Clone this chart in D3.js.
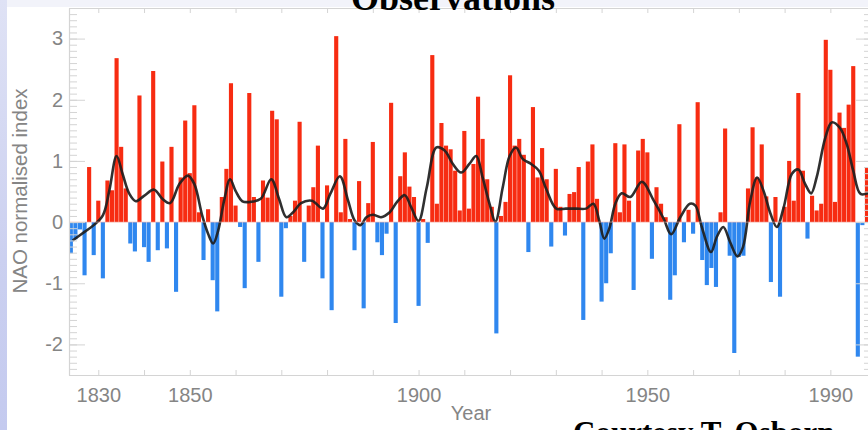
<!DOCTYPE html>
<html>
<head>
<meta charset="utf-8">
<script src="https://cdn.jsdelivr.net/npm/d3@7"></script>
<style>
  html, body { margin: 0; padding: 0; background: #ffffff; }
  svg { display: block; }
</style>
</head>
<body>
<svg id="chart" width="868" height="430"></svg>
<script>
// Winter NAO index, normalised, one value per year starting at firstYear
const firstYear = 1824;
const naoValues = [
  -0.51, -0.28, -0.12, -0.87, 0.90, -0.54,            // 1824-1829
  0.35, -0.92, 0.68, 0.52, 2.68, 1.23, 0.55, -0.35, -0.48, 2.07,   // 1830s
  -0.41, -0.65, 2.47, -0.46, 0.99, -0.43, 1.23, -1.14, 0.73, 1.66, // 1840s
  0.80, 1.91, 0.16, -0.62, 0.21, -0.95, -1.46, 0.41, 0.87, 2.27,   // 1850s
  0.27, -0.08, -1.08, 2.11, 0.41, -0.65, 0.68, 0.40, 1.82, 1.68,   // 1860s
  -1.22, -0.10, 0.10, 0.35, 1.64, -0.65, 0.27, 0.57, 1.25, -0.92,  // 1870s
  0.60, -1.44, 3.04, 0.16, 1.36, 0.05, -0.46, 0.67, -1.41, 0.31,   // 1880s
  1.31, -0.33, -0.54, -0.19, 1.95, -1.65, 0.75, 1.14, 0.58, 0.41,  // 1890s
  -1.37, 0.05, -0.34, 2.73, 0.30, 1.62, 1.25, 1.19, 0.84, 0.19,    // 1900s
  1.49, 0.22, 0.95, 2.05, 1.36, 0.70, 0.25, -1.82, 0.10, 0.33,     // 1910s
  2.40, 1.25, 1.36, 1.10, -0.49, 1.88, 0.73, 1.21, 0.70, -0.40,    // 1920s
  0.87, 0.25, -0.22, 0.46, 0.49, 0.90, -1.60, 0.99, 1.27, 0.38,    // 1930s
  -1.30, -1.00, -0.51, 1.29, 0.16, 1.27, 0.35, -1.11, 1.17, 1.36,  // 1940s
  1.14, -0.60, 0.57, 0.30, 0.08, -1.27, -0.87, 1.60, -0.33, 0.20,  // 1950s
  -0.19, 1.96, -0.62, -1.03, -0.75, -1.06, 0.16, 1.53, -0.55, -2.14, // 1960s
  -0.57, -0.55, 0.55, 1.55, 0.73, 1.27, 0.42, -0.98, 0.41, -1.22,  // 1970s
  0.25, 1.00, 0.35, 2.11, 0.84, -0.27, 0.43, 0.19, 0.30, 2.98,     // 1980s
  2.49, 0.33, 1.79, 1.54, 1.92, 2.55, -2.20, -0.05, 0.90           // 1990s
];

// Low-pass filtered curve (decadal variability)
const smoothYears = [
  1824.4, 1827, 1829, 1831, 1832.4, 1834, 1835.3, 1836.8, 1838.2, 1840,
  1842.2, 1844, 1845.7, 1847.7, 1849.6, 1851, 1852.7, 1854, 1855.1, 1856.2,
  1857.5, 1858.8, 1860, 1861.5, 1863.3, 1865.5, 1867.8, 1869.5, 1871.1, 1872.7,
  1874.3, 1876.7, 1879.1, 1880.7, 1882.8, 1884.6, 1886, 1887.3, 1888.6, 1890,
  1891.8, 1893.7, 1895.3, 1897, 1898.4, 1900, 1901.8, 1903.9, 1905.7, 1907.5,
  1909.3, 1911.1, 1912.6, 1914, 1915.5, 1916.8, 1918.4, 1919.9, 1921.3, 1922.8,
  1924.6, 1926.3, 1927.9, 1930.1, 1932.2, 1934.4, 1936.6, 1938.2, 1939.5, 1940.6,
  1941.7, 1943, 1944.4, 1946.3, 1948.8, 1951.4, 1953.6, 1955.2, 1957.2, 1959.3,
  1960.5, 1961.9, 1963.9, 1965.2, 1966.6, 1968.1, 1969.7, 1970.9, 1972.5, 1974,
  1975.4, 1976.9, 1978.3, 1979.8, 1981.6, 1983, 1984.5, 1985.8, 1987, 1988.9,
  1990.3, 1992.1, 1993.6, 1995, 1996.6, 1998.5
];
const smoothValues = [
  -0.30, -0.16, -0.05, 0.11, 0.51, 1.08, 0.79, 0.46, 0.34, 0.43,
  0.53, 0.38, 0.31, 0.62, 0.76, 0.62, 0.11, -0.19, -0.35, -0.14,
  0.35, 0.70, 0.51, 0.34, 0.33, 0.38, 0.70, 0.38, 0.08, 0.17,
  0.31, 0.35, 0.22, 0.46, 0.75, 0.35, 0.03, -0.05, 0.08, 0.12,
  0.08, 0.16, 0.33, 0.44, 0.24, 0.02, 0.57, 1.22, 1.17, 0.95,
  0.81, 0.95, 1.08, 0.73, 0.30, 0.01, 0.57, 1.08, 1.22, 1.03,
  0.95, 0.84, 0.54, 0.22, 0.22, 0.22, 0.22, 0.30, 0.02, -0.27,
  -0.10, 0.30, 0.47, 0.41, 0.66, 0.35, 0.05, -0.20, 0.08, 0.30,
  0.27, -0.08, -0.49, -0.24, -0.08, -0.33, -0.56, -0.41, 0.35, 0.73,
  0.51, 0.14, -0.08, 0.24, 0.79, 0.86, 0.62, 0.47, 0.73, 1.38,
  1.63, 1.54, 1.27, 0.84, 0.46, 0.48
];

const decadeTicks = [1830, 1840, 1850, 1860, 1870, 1880, 1890, 1900, 1910,
                     1920, 1930, 1940, 1950, 1960, 1970, 1980, 1990];
const yearLabels = [1830, 1850, 1900, 1950, 1990];
const indexTicks = [-2, -1, 0, 1, 2, 3];

const titleText = "Observations";
const creditText = "Courtesy T. Osborn";
const xTitle = "Year";
const yTitle = "NAO normalised index";

const W = 868, H = 430;
const plot = { left: 69, right: 872, top: 8, bottom: 375 };
const posColor = "#f72c12";
const negColor = "#2f87ef";
const axisColor = "#d4d4d4";
const labelColor = "#858585";
const sans = "'Liberation Sans', Arial, Helvetica, sans-serif";
const serif = "'Liberation Serif', 'Times New Roman', serif";

const svg = d3.select("#chart");

// Slide backdrop: pale lavender margin on the left and top, white panel
const defs = svg.append("defs");
const edge = defs.append("linearGradient").attr("id", "edge")
  .attr("x1", 0).attr("y1", 0).attr("x2", 0).attr("y2", 1);
edge.append("stop").attr("offset", 0).attr("stop-color", "#dfe2f5");
edge.append("stop").attr("offset", 0.6).attr("stop-color", "#cbd0f0");
edge.append("stop").attr("offset", 1).attr("stop-color", "#c4caef");
svg.append("rect").attr("width", W).attr("height", H).attr("fill", "#f2f3fa");
svg.append("rect").attr("x", 0).attr("y", 0).attr("width", 7).attr("height", H).attr("fill", "url(#edge)");
svg.append("rect").attr("x", 7).attr("y", 7).attr("width", W - 7).attr("height", H - 7).attr("fill", "#ffffff");

const data = naoValues.map((v, i) => ({ year: firstYear + i, value: v }));

const x = d3.scaleLinear().domain([1823.6, 1999.1]).range([plot.left, plot.right]);
const y = d3.scaleLinear().domain([-2.5, 3.5]).range([plot.bottom, plot.top]);
const step = x(1) - x(0);
const barW = step * 0.9;

const clip = defs.append("clipPath").attr("id", "plotClip");
clip.append("rect").attr("x", plot.left).attr("y", plot.top)
  .attr("width", plot.right - plot.left).attr("height", plot.bottom - plot.top);

const g = svg.append("g").attr("clip-path", "url(#plotClip)");

// Annual bars: red above zero, blue below
g.selectAll("rect.bar").data(data).join("rect")
  .attr("class", "bar")
  .attr("x", d => x(d.year) - barW / 2)
  .attr("width", barW)
  .attr("y", d => y(Math.max(0, d.value)))
  .attr("height", d => Math.abs(y(d.value) - y(0)))
  .attr("fill", d => d.value >= 0 ? posColor : negColor);

// Smoothed curve
const smooth = smoothYears.map((yr, i) => [yr, smoothValues[i]]);
g.append("path")
  .datum(smooth)
  .attr("fill", "none")
  .attr("stroke", "#1e1e1e")
  .attr("stroke-width", 2.6)
  .attr("stroke-linejoin", "round")
  .attr("stroke-opacity", 0.92)
  .attr("d", d3.line().x(d => x(d[0])).y(d => y(d[1])).curve(d3.curveCatmullRom.alpha(0.5)));

// Zero line
g.append("line")
  .attr("x1", plot.left).attr("x2", plot.right)
  .attr("y1", y(0)).attr("y2", y(0))
  .attr("stroke", "#f0b0a8").attr("stroke-width", 0.6);

// Axes
const minorTicks = d3.range(-25, 36).map(k => k / 10);

function styleAxis(sel) {
  sel.select(".domain").attr("stroke", axisColor).attr("stroke-width", 1.2);
  sel.selectAll(".tick line").attr("stroke", axisColor).attr("stroke-width", 1);
  sel.selectAll(".tick text").attr("fill", labelColor)
    .style("font-family", sans).style("font-size", "20px");
}

svg.append("g").attr("transform", `translate(0,${plot.bottom})`)
  .call(d3.axisBottom(x).tickValues(decadeTicks).tickSizeInner(-5).tickSizeOuter(0)
    .tickPadding(13).tickFormat(d => yearLabels.includes(d) ? String(d) : ""))
  .call(styleAxis);

svg.append("g").attr("transform", `translate(0,${plot.top})`)
  .call(d3.axisTop(x).tickValues(decadeTicks).tickSizeInner(-5).tickSizeOuter(0).tickFormat(""))
  .call(styleAxis);

svg.append("g").attr("transform", `translate(${plot.left},0)`)
  .call(d3.axisLeft(y).tickValues(minorTicks).tickSizeInner(-8).tickSizeOuter(0).tickFormat(""))
  .call(styleAxis);

svg.append("g").attr("transform", `translate(${plot.left},0)`)
  .call(d3.axisLeft(y).tickValues(indexTicks).tickSizeInner(-16).tickSizeOuter(0)
    .tickPadding(6).tickFormat(d => String(d)))
  .call(styleAxis)
  .call(s => s.select(".domain").remove());

svg.append("g").attr("transform", `translate(${plot.right},0)`)
  .call(d3.axisRight(y).tickValues(minorTicks).tickSizeInner(-8).tickSizeOuter(0).tickFormat(""))
  .call(styleAxis);

svg.append("g").attr("transform", `translate(${plot.right},0)`)
  .call(d3.axisRight(y).tickValues(indexTicks).tickSizeInner(-16).tickSizeOuter(0).tickFormat(""))
  .call(styleAxis)
  .call(s => s.select(".domain").remove());

// Axis titles
svg.append("text")
  .attr("x", 471).attr("y", 420)
  .attr("text-anchor", "middle")
  .attr("fill", labelColor)
  .style("font-family", sans).style("font-size", "20px")
  .text(xTitle);

svg.append("text")
  .attr("transform", "translate(27,191) rotate(-90)")
  .attr("text-anchor", "middle")
  .attr("fill", labelColor)
  .style("font-family", sans).style("font-size", "20.5px")
  .text(yTitle);

// Slide heading and credit
svg.append("text")
  .attr("x", 453).attr("y", 10)
  .attr("text-anchor", "middle")
  .attr("fill", "#000")
  .style("font-family", serif).style("font-size", "36px").style("font-weight", "bold")
  .text(titleText);

svg.append("text")
  .attr("x", 573).attr("y", 443)
  .attr("fill", "#000")
  .style("font-family", serif).style("font-size", "31px").style("font-weight", "bold")
  .text(creditText);
</script>
</body>
</html>
